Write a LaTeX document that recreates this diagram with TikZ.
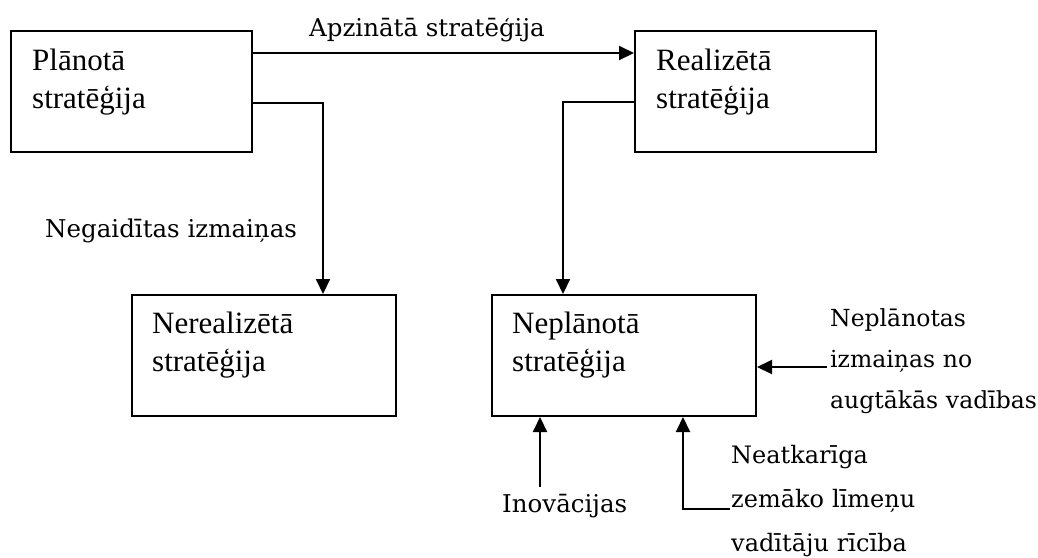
\documentclass[tikz,border=0pt]{standalone}
\usepackage{fontspec}
\setmainfont{Liberation Serif}
\newfontfamily\labfont{DejaVu Serif}
\usetikzlibrary{arrows.meta,calc}
\begin{document}
\begin{tikzpicture}[x=1pt,y=-1pt,
  stratbox/.style={draw,line width=2pt,inner sep=0pt,anchor=north west,
    minimum width=#1,minimum height=121pt},
  boxtext/.style={inner sep=0pt,anchor=base west,align=left,text width=230pt,
    font=\fontsize{31}{38}\selectfont},
  lab/.style={inner sep=0pt,anchor=base west,
    font=\labfont\fontsize{24.5}{30}\selectfont},
  lablines/.style 2 args={inner sep=0pt,anchor=base west,align=left,
    text width=210pt,font=\labfont\fontsize{#1}{#2}\selectfont},
  arr/.style={line width=2pt,-{Triangle[length=15pt,width=14pt]}}]
\useasboundingbox (0,0) rectangle (1038,557);

% strategy boxes
\node[stratbox=241pt] (b1) at (10,30) {};
\node[stratbox=241pt] (b2) at (634,30) {};
\node[stratbox=264pt] (b3) at (131,294) {};
\node[stratbox=264pt] (b4) at (491,294) {};

\node[boxtext] (t1) at ($(b1.north west)+(22,40)$) {Plānotā\\stratēģija};
\node[boxtext] (t2) at ($(b2.north west)+(22,40)$) {Realizētā\\stratēģija};
\node[boxtext] (t3) at ($(b3.north west)+(21,39)$) {Nerealizētā\\stratēģija};
\node[boxtext] (t4) at ($(b4.north west)+(21,39)$) {Neplānotā\\stratēģija};

% influence labels
\node[lab] (l1) at (309,36) {Apzinātā stratēģija};
\node[lab] (l2) at (45,237) {Negaidītas izmaiņas};
\node[lab] (l3) at (502,512) {Inovācijas};
\node[lablines={23.5}{41}] (l4) at (830,326) {Neplānotas\\izmaiņas no\\augtākās vadības};
\node[lablines={24}{44}] (l5) at (731,463) {Neatkarīga\\zemāko līmeņu\\vadītāju rīcība};

% free ends of the incoming connectors
\coordinate (rin) at (827,367);
\coordinate (iin) at (540,487);
\coordinate (nin) at (730,509);

% connectors
\draw[arr] ($(b1.north east)+(0,23)$) -- ($(b2.north west)+(0,23)$);
\draw[arr] ($(b1.north east)+(0,73)$) -| ($(b3.north west)+(192,0)$);
\draw[arr] ($(b2.north west)+(0,72)$) -| ($(b4.north west)+(72,0)$);
\draw[arr] (rin) -- (b4.east |- rin);
\draw[arr] (iin) -- (b4.south -| iin);
\draw[arr] (nin) -| ($(b4.south west)+(192,0)$);
\end{tikzpicture}
\end{document}
